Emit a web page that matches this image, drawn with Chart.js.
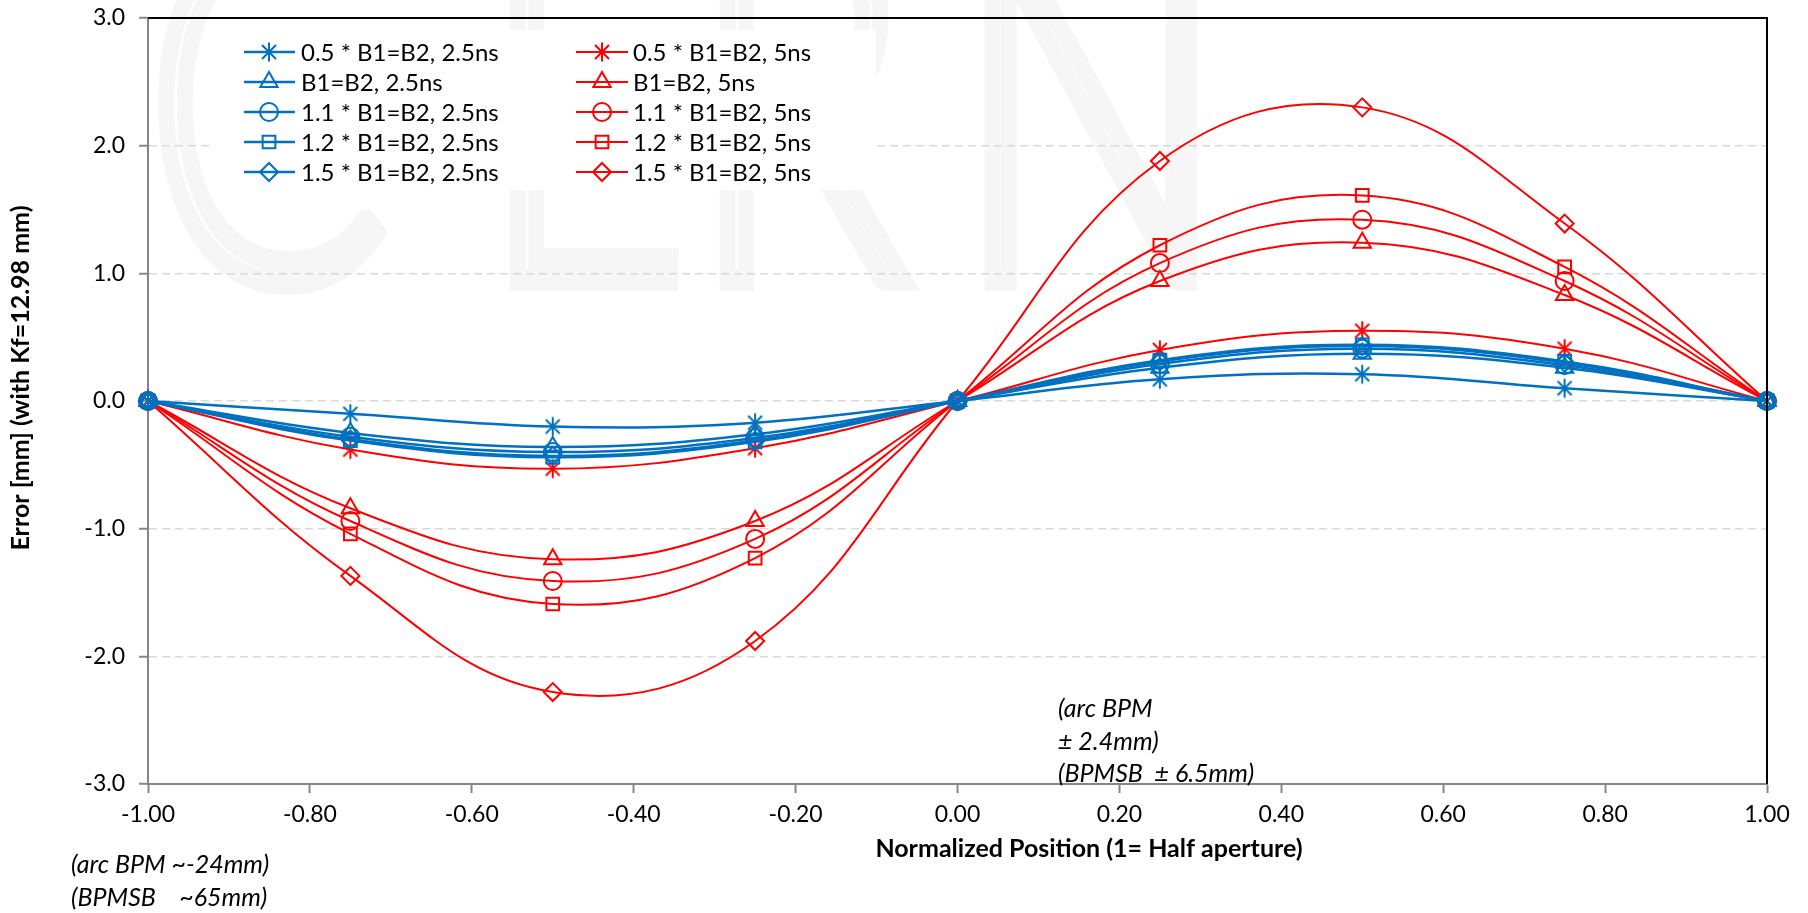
<!DOCTYPE html>
<html>
<head>
<meta charset="utf-8">
<script src="https://cdn.jsdelivr.net/npm/chart.js@4.4.1/dist/chart.umd.min.js"></script>
<style>
  html, body { margin: 0; padding: 0; background: #fff; }
</style>
</head>
<body>
<canvas id="chart" width="1808" height="913"></canvas>
<script>
// normalized positions (x) and errors in mm (y)
const positions = [-1, -0.75, -0.5, -0.25, 0, 0.25, 0.5, 0.75, 1];

const b05_25ns = [0, -0.10, -0.20, -0.17, 0, 0.17, 0.21, 0.10, 0];
const b10_25ns = [0, -0.25, -0.36, -0.26, 0, 0.26, 0.37, 0.26, 0];
const b11_25ns = [0, -0.28, -0.40, -0.29, 0, 0.29, 0.41, 0.28, 0];
const b12_25ns = [0, -0.31, -0.44, -0.32, 0, 0.32, 0.44, 0.31, 0];
const b15_25ns = [0, -0.30, -0.43, -0.31, 0, 0.31, 0.43, 0.30, 0];

const b05_5ns = [0, -0.38, -0.53, -0.37, 0, 0.40, 0.55, 0.41, 0];
const b10_5ns = [0, -0.84, -1.24, -0.94, 0, 0.94, 1.24, 0.83, 0];
const b11_5ns = [0, -0.94, -1.41, -1.08, 0, 1.08, 1.42, 0.94, 0];
const b12_5ns = [0, -1.04, -1.59, -1.23, 0, 1.22, 1.61, 1.05, 0];
const b15_5ns = [0, -1.37, -2.28, -1.88, 0, 1.88, 2.30, 1.39, 0];

const labels25 = ['0.5 * B1=B2, 2.5ns', 'B1=B2, 2.5ns', '1.1 * B1=B2, 2.5ns', '1.2 * B1=B2, 2.5ns', '1.5 * B1=B2, 2.5ns'];
const labels5 = ['0.5 * B1=B2, 5ns', 'B1=B2, 5ns', '1.1 * B1=B2, 5ns', '1.2 * B1=B2, 5ns', '1.5 * B1=B2, 5ns'];

const xTicks = [-1, -0.8, -0.6, -0.4, -0.2, 0, 0.2, 0.4, 0.6, 0.8, 1];
const yTicks = [-3, -2, -1, 0, 1, 2, 3];

const BLUE = '#0070C0';
const RED = '#FF0000';
const FONT = 'Lato, "Open Sans", sans-serif';

// excel style asterisk: vertical bar plus an x
function asterisk(color) {
  const c = document.createElement('canvas');
  c.width = 22; c.height = 22;
  const g = c.getContext('2d');
  g.strokeStyle = color;
  g.lineWidth = 2;
  g.beginPath();
  g.moveTo(11, 1.5); g.lineTo(11, 20.5);
  g.moveTo(4, 4); g.lineTo(18, 18);
  g.moveTo(18, 4); g.lineTo(4, 18);
  g.stroke();
  return c;
}

const markers = [asterisk, 'triangle', 'circle', 'rect', 'rectRot'];
const radii = [9, 10, 9, 9, 9];

function series(values, label, color, idx, width) {
  const style = markers[idx];
  return {
    label: label,
    data: positions.map((x, i) => ({ x: x, y: values[i] })),
    showLine: true,
    borderColor: color,
    backgroundColor: 'rgba(0,0,0,0)',
    borderWidth: width,
    tension: 0.4,
    pointStyle: typeof style === 'function' ? style(color) : style,
    pointRadius: radii[idx],
    pointBorderWidth: 2,
    pointBorderColor: color,
    pointBackgroundColor: 'rgba(0,0,0,0)',
    clip: false
  };
}

const blueSets = [b05_25ns, b10_25ns, b11_25ns, b12_25ns, b15_25ns];
const redSets = [b05_5ns, b10_5ns, b11_5ns, b12_5ns, b15_5ns];

const datasets = [];
blueSets.forEach((v, i) => datasets.push(series(v, labels25[i], BLUE, i, 2.5)));
redSets.forEach((v, i) => datasets.push(series(v, labels5[i], RED, i, 2)));

// faint CERN watermark behind everything
const watermark = {
  id: 'watermark',
  beforeDraw(chart) {
    const ctx = chart.ctx;
    ctx.save();
    ctx.fillStyle = '#fff';
    ctx.fillRect(0, 0, chart.width, chart.height);
    ctx.strokeStyle = '#f6f6f6';
    ctx.lineWidth = 22;
    ctx.font = '300 500px ' + FONT;
    ctx.textBaseline = 'alphabetic';
    const letters = [['C', 145], ['E', 480], ['R', 690], ['N', 955]];
    letters.forEach(([ch, x]) => {
      ctx.save();
      ctx.translate(x, 280);
      ctx.scale(0.72, 1);
      ctx.strokeText(ch, 0, 0);
      ctx.restore();
    });
    ctx.restore();
  }
};

// top/right frame, legend box and free text
const overlay = {
  id: 'overlay',
  afterDraw(chart) {
    const ctx = chart.ctx;
    const a = chart.chartArea;
    ctx.save();
    ctx.strokeStyle = '#000';
    ctx.lineWidth = 2;
    ctx.beginPath();
    ctx.moveTo(a.left, a.top);
    ctx.lineTo(a.right, a.top);
    ctx.lineTo(a.right, a.bottom);
    ctx.stroke();

    // legend
    ctx.fillStyle = '#fff';
    ctx.fillRect(213, 30, 663, 160);
    const rows = [52, 82, 112, 142, 172];
    const cols = [{ x0: 244, x1: 295, mx: 269, tx: 301, color: BLUE, labels: labels25, off: 0 },
                  { x0: 576, x1: 628, mx: 602, tx: 633, color: RED, labels: labels5, off: 5 }];
    cols.forEach(col => {
      col.labels.forEach((lab, i) => {
        const y = rows[i];
        const ds = chart.data.datasets[col.off + i];
        ctx.strokeStyle = col.color;
        ctx.lineWidth = ds.borderWidth;
        ctx.beginPath();
        ctx.moveTo(col.x0, y);
        ctx.lineTo(col.x1, y);
        ctx.stroke();
        ctx.fillStyle = 'rgba(0,0,0,0)';
        ctx.lineWidth = 2;
        Chart.helpers.drawPoint(ctx, { pointStyle: ds.pointStyle, radius: ds.pointRadius, rotation: 0, borderWidth: 2 }, col.mx, y);
        ctx.fillStyle = '#000';
        ctx.font = '24px ' + FONT;
        ctx.textBaseline = 'middle';
        ctx.textAlign = 'left';
        ctx.fillText(lab, col.tx, y + 1);
      });
    });

    // axis titles
    ctx.fillStyle = '#000';
    ctx.font = 'bold 25px ' + FONT;
    ctx.textAlign = 'center';
    ctx.textBaseline = 'middle';
    ctx.fillText('Normalized Position (1= Half aperture)', 1089, 849);
    ctx.save();
    ctx.translate(21, 378);
    ctx.rotate(-Math.PI / 2);
    ctx.fillText('Error [mm] (with Kf=12.98 mm)', 0, 0);
    ctx.restore();

    // notes
    ctx.font = 'italic 25px ' + FONT;
    ctx.textAlign = 'left';
    ctx.fillText('(arc BPM ~-24mm)', 71, 865);
    ctx.fillText('(BPMSB    ~65mm)', 71, 898);
    ctx.fillText('(arc BPM', 1058, 709);
    ctx.fillText('\u00b1 2.4mm)', 1058, 742);
    ctx.fillText('(BPMSB  \u00b1 6.5mm)', 1058, 774);
    ctx.restore();
  }
};

new Chart(document.getElementById('chart'), {
  type: 'scatter',
  data: { datasets: datasets },
  options: {
    responsive: false,
    animation: false,
    layout: { padding: { left: 0, right: 41, top: 18, bottom: 0 } },
    plugins: {
      legend: { display: false },
      tooltip: { enabled: false }
    },
    scales: {
      x: {
        type: 'linear',
        min: -1,
        max: 1,
        afterFit: (s) => { s.height = 129; s.paddingLeft = 0; s.paddingRight = 0; },
        afterBuildTicks: (s) => { s.ticks = xTicks.map(v => ({ value: v })); },
        grid: { drawOnChartArea: false, drawTicks: true, tickLength: 9, tickColor: '#868686', tickWidth: 2 },
        border: { color: '#868686', width: 2 },
        ticks: {
          color: '#000',
          padding: 8,
          font: { family: FONT, size: 23 },
          callback: (v) => (Math.abs(v) < 1e-9 ? 0 : v).toFixed(2)
        }
      },
      y: {
        type: 'linear',
        min: -3,
        max: 3,
        afterFit: (s) => { s.width = 148; s.paddingTop = 0; s.paddingBottom = 0; },
        afterBuildTicks: (s) => { s.ticks = yTicks.map(v => ({ value: v })); },
        grid: { color: '#d9d9d9', lineWidth: 1.5, drawTicks: true, tickLength: 9, tickColor: '#868686', tickWidth: 2 },
        border: { color: '#868686', width: 2, dash: [8, 5] },
        ticks: {
          color: '#000',
          padding: 14,
          font: { family: FONT, size: 23 },
          callback: (v) => (Math.abs(v) < 1e-9 ? 0 : v).toFixed(1)
        }
      }
    }
  },
  plugins: [watermark, overlay]
});
</script>
</body>
</html>
